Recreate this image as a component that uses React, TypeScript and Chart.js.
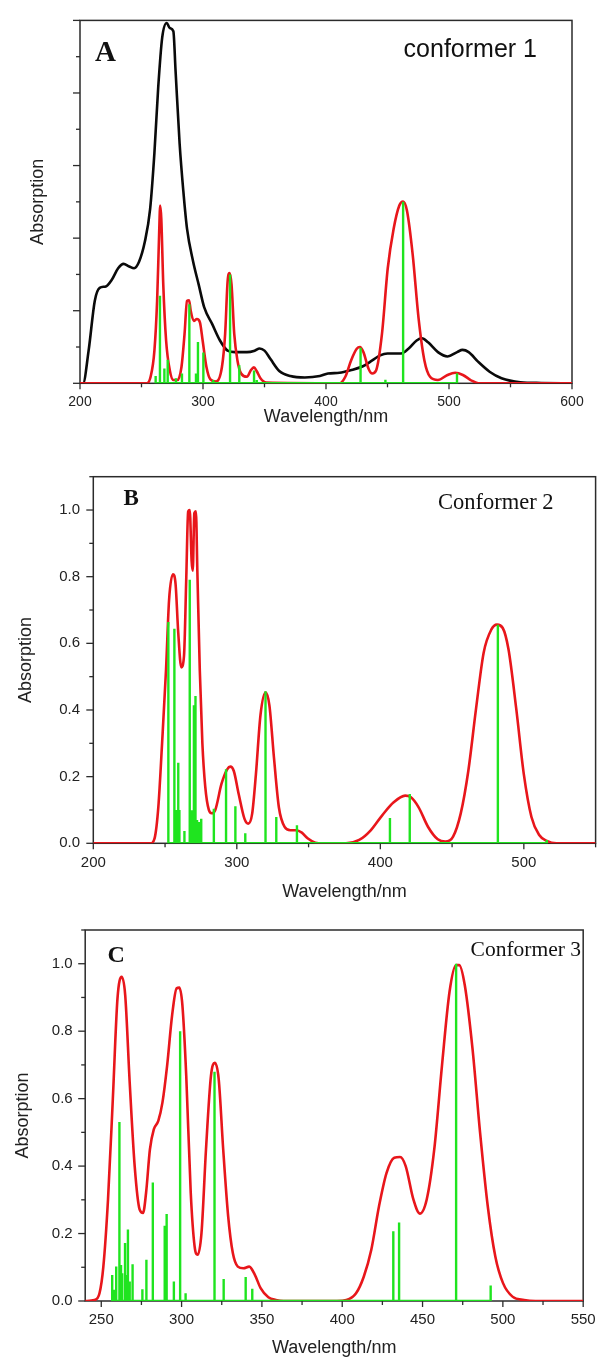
import React, { useEffect, useRef } from "react";
import { Chart, registerables } from "chart.js";
Chart.register(...registerables);

// ---------- Panel A (conformer 1) ----------
const A_EXP_NM = [200, 202.5, 207, 212, 216, 221, 226, 231, 235.4, 240, 244, 248, 252.7, 257, 260.5, 263.6, 266.8, 270.5, 273, 275.9, 277.7, 281, 284, 287, 292, 296.5, 301, 307.5, 313.8, 320, 326, 335.7, 342, 346, 350, 355, 362, 371, 382.8, 395, 401.6, 411, 420, 430, 437.6, 444, 450, 461, 467, 473.7, 478, 483, 491, 498.8, 506.6, 511, 516, 523.8, 533, 542.7, 558, 575, 600];
const A_EXP_ABS = [0, 0, 0.09, 0.227, 0.263, 0.267, 0.286, 0.317, 0.329, 0.322, 0.317, 0.335, 0.39, 0.48, 0.635, 0.816, 0.952, 0.993, 0.979, 0.97, 0.861, 0.66, 0.53, 0.426, 0.335, 0.272, 0.209, 0.163, 0.118, 0.09, 0.086, 0.086, 0.09, 0.096, 0.09, 0.066, 0.034, 0.02, 0.016, 0.02, 0.027, 0.029, 0.036, 0.047, 0.063, 0.077, 0.082, 0.082, 0.095, 0.118, 0.124, 0.113, 0.086, 0.074, 0.086, 0.092, 0.086, 0.059, 0.032, 0.014, 0.003, 0.001, 0];
const A_CALC_NM = [200, 254.2, 257.4, 260.5, 262.7, 264.3, 265.2, 266.1, 267.7, 270, 273, 276, 279.3, 282.5, 285, 287, 288.7, 290, 292.5, 295, 297.5, 299.7, 302.8, 306, 310.7, 315.4, 318, 320, 321.6, 323.2, 325.4, 328, 331, 335.7, 338.9, 341.4, 343.6, 346.7, 351.4, 411, 415.7, 420.4, 425, 427.6, 430.4, 434.5, 437.6, 440.8, 445.5, 450.2, 455, 459.6, 462.7, 465.8, 470.5, 475.2, 480, 484.6, 491, 498.8, 505, 511.3, 517.6, 523.8, 600];
const A_CALC_ABS = [0, 0, 0.018, 0.09, 0.227, 0.408, 0.49, 0.453, 0.272, 0.118, 0.036, 0.009, 0.009, 0.045, 0.136, 0.227, 0.229, 0.2, 0.172, 0.177, 0.168, 0.118, 0.045, 0.011, 0.005, 0.045, 0.136, 0.28, 0.304, 0.272, 0.136, 0.063, 0.027, 0.018, 0.036, 0.044, 0.034, 0.014, 0.002, 0, 0.018, 0.063, 0.095, 0.1, 0.086, 0.041, 0.027, 0.036, 0.136, 0.317, 0.426, 0.49, 0.501, 0.476, 0.354, 0.181, 0.063, 0.018, 0.009, 0.023, 0.029, 0.023, 0.009, 0, 0];
const A_STICK_NM = [261.5, 265, 268.6, 271.3, 278, 282.9, 288.9, 294.3, 295.9, 300.3, 308.4, 322, 329.5, 341.5, 343.7, 428.1, 448.3, 462.7, 506.5];
const A_STICK_F = [0.02, 0.241, 0.041, 0.065, 0.014, 0.027, 0.218, 0.027, 0.114, 0.085, 0.009, 0.3, 0.05, 0.035, 0.009, 0.098, 0.01, 0.5, 0.028];
const A_X_LABELS = [200, 300, 400, 500, 600];

// ---------- Panel B (Conformer 2) ----------
const B_CALC_NM = [200, 240, 242.7, 245.3, 248, 250.7, 252.8, 255.5, 257.3, 259.2, 261.3, 263.2, 264.8, 266.1, 267.2, 268.5, 269.3, 270.4, 271.5, 272.5, 274.2, 276, 278, 280.5, 282.5, 285, 289.3, 293.3, 295.5, 297.9, 301.3, 305.3, 308, 310.7, 313.3, 316.5, 320, 322.7, 325.9, 329.3, 333.3, 337.3, 341.3, 345.3, 349.3, 354.7, 360, 376, 385.3, 393.3, 401.3, 409.3, 417.3, 421.3, 426.7, 433.3, 440, 445.3, 450.7, 456, 461.3, 466.7, 472, 477.3, 481.3, 485.3, 489.3, 494.7, 500, 505.3, 510.7, 516, 522.7, 550];
const B_CALC_ABS = [0, 0, 0.015, 0.108, 0.306, 0.523, 0.73, 0.807, 0.779, 0.631, 0.528, 0.562, 0.799, 0.996, 1.0, 0.848, 0.818, 0.991, 0.996, 0.818, 0.52, 0.3, 0.17, 0.1, 0.09, 0.1, 0.178, 0.222, 0.23, 0.217, 0.148, 0.074, 0.059, 0.089, 0.207, 0.385, 0.452, 0.414, 0.256, 0.108, 0.049, 0.039, 0.039, 0.032, 0.015, 0.002, 0, 0, 0.01, 0.039, 0.084, 0.123, 0.143, 0.138, 0.108, 0.049, 0.012, 0.005, 0.02, 0.089, 0.217, 0.404, 0.572, 0.641, 0.656, 0.646, 0.582, 0.404, 0.207, 0.079, 0.025, 0.007, 0, 0];
const B_STICK_NM = [252.3, 256.5, 258.1, 259.2, 260, 263.5, 267.2, 268.5, 270.1, 271.2, 272.3, 273.6, 275.2, 284, 292.5, 299, 305.9, 320, 327.5, 341.9, 406.7, 420.5, 481.9, 516];
const B_STICK_F = [0.664, 0.644, 0.1, 0.242, 0.1, 0.037, 0.791, 0.099, 0.414, 0.442, 0.07, 0.064, 0.074, 0.104, 0.222, 0.111, 0.03, 0.456, 0.079, 0.054, 0.076, 0.148, 0.656, 0.01];
const B_X_LABELS = [200, 300, 400, 500];

// ---------- Panel C (Conformer 3) ----------
const C_CALC_NM = [240, 245.8, 248.9, 251.3, 254.2, 257.2, 260.1, 262.7, 264.9, 267.7, 270.8, 273.9, 276, 277.9, 280.3, 282.7, 285.5, 288.1, 291, 294.1, 296.9, 298.6, 300.5, 302.9, 305.7, 308.1, 310, 312.4, 315.2, 318.3, 320.7, 323.1, 325.9, 329, 331.9, 335, 338.5, 342.1, 345.7, 349.2, 354, 358.7, 363.5, 396.7, 402.6, 408.6, 413.4, 418.1, 422.9, 427.6, 432.4, 436, 439.5, 444.3, 448.3, 452.6, 457.3, 462.1, 466.8, 470.9, 472.8, 476.3, 481.1, 485.8, 490.6, 495.3, 500.1, 506, 513.2, 520.3, 550];
const C_CALC_ABS = [0, 0.003, 0.023, 0.102, 0.301, 0.599, 0.897, 0.961, 0.907, 0.648, 0.4, 0.271, 0.261, 0.321, 0.45, 0.509, 0.534, 0.589, 0.698, 0.847, 0.927, 0.929, 0.877, 0.668, 0.321, 0.162, 0.137, 0.202, 0.45, 0.668, 0.706, 0.658, 0.45, 0.251, 0.142, 0.102, 0.097, 0.102, 0.077, 0.038, 0.011, 0.003, 0, 0, 0.003, 0.023, 0.072, 0.152, 0.281, 0.38, 0.425, 0.427, 0.4, 0.301, 0.259, 0.301, 0.45, 0.698, 0.917, 0.996, 0.996, 0.936, 0.748, 0.5, 0.281, 0.132, 0.053, 0.013, 0.003, 0, 0];
const C_STICK_NM = [256.8, 258.1, 259.3, 261.3, 262.3, 263, 264.8, 265.7, 266.6, 267.7, 269.5, 275.6, 278.1, 282.1, 289.5, 290.7, 295.2, 299.1, 302.5, 320.5, 326.2, 339.9, 344, 431.8, 435.4, 470.9, 492.4];
const C_STICK_F = [0.077, 0.033, 0.102, 0.531, 0.107, 0.082, 0.172, 0.077, 0.212, 0.058, 0.109, 0.035, 0.122, 0.351, 0.223, 0.258, 0.058, 0.8, 0.023, 0.68, 0.065, 0.071, 0.036, 0.207, 0.233, 1.0, 0.046];
const C_X_LABELS = [250, 300, 350, 400, 450, 500, 550];

const Y_LABELS = ["0.0", "0.2", "0.4", "0.6", "0.8", "1.0"];
const X_TITLE = "Wavelength/nm";
const Y_TITLE = "Absorption";

const SANS = "'Liberation Sans', Arial, Helvetica, sans-serif";
const SERIF = "'Liberation Serif', 'Times New Roman', Times, serif";
const TXT = "#222";
const AXIS = "#2b2b2b";
const RED = "#e8161b";
const GREEN = "#1fe41f";
const BLACK = "#0a0a0a";

const W = 606;

function toPoints(xs: number[], ys: number[]) {
  return xs.map((x, i) => ({ x, y: ys[i] }));
}
function stickPoints(xs: number[], hs: number[]) {
  const pts: { x: number; y: number }[] = [];
  xs.forEach((x, i) => {
    pts.push({ x, y: 0 });
    pts.push({ x, y: hs[i] });
    pts.push({ x, y: 0 });
  });
  return pts;
}

type Label = { text: string; x: number; y: number; font: string };
type PanelCfg = {
  key: string;
  top: number;
  height: number;
  area: { left: number; right: number; top: number; bottom: number };
  xMin: number;
  xMax: number;
  xMinor: number;
  xMajor: number;
  xLabels: number[];
  yMax: number;
  yLabels: string[];
  tickFont: number;
  xTickPad: number;
  yTickPad: number;
  xTitlePad: number;
  yTitlePad: number;
  exp?: { x: number[]; y: number[] };
  calc: { x: number[]; y: number[] };
  sticks: { x: number[]; y: number[] };
  labels: Label[];
};

const PANELS: PanelCfg[] = [
  {
    key: "A", top: 0, height: 440,
    area: { left: 80, right: 572, top: 15.7, bottom: 383.3 },
    xMin: 200, xMax: 600, xMinor: 50, xMajor: 100, xLabels: A_X_LABELS,
    yMax: 1.0, yLabels: [], tickFont: 14, xTickPad: 10, yTickPad: 12,
    xTitlePad: 12, yTitlePad: 27.5,
    exp: { x: A_EXP_NM, y: A_EXP_ABS },
    calc: { x: A_CALC_NM, y: A_CALC_ABS },
    sticks: { x: A_STICK_NM, y: A_STICK_F },
    labels: [
      { text: "A", x: 95, y: 60.7, font: `bold 29px ${SERIF}` },
      { text: "conformer 1", x: 403.6, y: 57.3, font: `25px ${SANS}` },
    ],
  },
  {
    key: "B", top: 440, height: 465,
    area: { left: 93.3, right: 599.7, top: 476.7, bottom: 843.3 },
    xMin: 200, xMax: 550, xMinor: 50, xMajor: 100, xLabels: B_X_LABELS,
    yMax: 1.1, yLabels: Y_LABELS, tickFont: 15, xTickPad: 10.4, yTickPad: 13.3,
    xTitlePad: 2.2, yTitlePad: 15,
    calc: { x: B_CALC_NM, y: B_CALC_ABS },
    sticks: { x: B_STICK_NM, y: B_STICK_F },
    labels: [
      { text: "B", x: 123.4, y: 505, font: `bold 23px ${SERIF}` },
      { text: "Conformer 2", x: 438, y: 509, font: `22.5px ${SERIF}` },
    ],
  },
  {
    key: "C", top: 900, height: 460,
    area: { left: 85.2, right: 591.7, top: 930, bottom: 1301 },
    xMin: 240, xMax: 550, xMinor: 25, xMajor: 50, xLabels: C_X_LABELS,
    yMax: 1.1, yLabels: Y_LABELS, tickFont: 15, xTickPad: 10.3, yTickPad: 12.5,
    xTitlePad: 1.2, yTitlePad: 12.2,
    calc: { x: C_CALC_NM, y: C_CALC_ABS },
    sticks: { x: C_STICK_NM, y: C_STICK_F },
    labels: [
      { text: "C", x: 107.5, y: 961.7, font: `bold 24px ${SERIF}` },
      { text: "Conformer 3", x: 470.6, y: 956, font: `21.5px ${SERIF}` },
    ],
  },
];

function PanelChart({ p }: { p: PanelCfg }) {
  const ref = useRef<HTMLCanvasElement>(null);
  useEffect(() => {
    const canvas = ref.current;
    if (!canvas) return;
    const H = p.height;
    const area = {
      left: p.area.left,
      right: p.area.right,
      top: p.area.top - p.top,
      bottom: p.area.bottom - p.top,
    };
    const nY = Math.round(p.yMax * 10);

    const decor = {
      id: "decor" + p.key,
      beforeDatasetsDraw(chart: any) {
        const { ctx, chartArea: ca, scales } = chart;
        const xs = scales.x;
        const ys = scales.y;
        ctx.save();
        ctx.strokeStyle = AXIS;
        ctx.lineWidth = 1.5;
        ctx.strokeRect(ca.left, ca.top, ca.right - ca.left, ca.bottom - ca.top);
        ctx.lineWidth = 1.3;
        const start = Math.ceil((p.xMin - 1e-6) / p.xMinor) * p.xMinor;
        for (let v = start; v <= p.xMax + 1e-6; v += p.xMinor) {
          const major = Math.abs(v / p.xMajor - Math.round(v / p.xMajor)) < 1e-6;
          const px = xs.getPixelForValue(v);
          ctx.beginPath();
          ctx.moveTo(px, ca.bottom);
          ctx.lineTo(px, ca.bottom + (major ? 6 : 4));
          ctx.stroke();
        }
        for (let i = 0; i <= nY; i++) {
          const py = ys.getPixelForValue(i / 10);
          const major = i % 2 === 0;
          ctx.beginPath();
          ctx.moveTo(ca.left, py);
          ctx.lineTo(ca.left - (major ? 7 : 4), py);
          ctx.stroke();
        }
        ctx.restore();
      },
      afterDraw(chart: any) {
        const { ctx } = chart;
        ctx.save();
        ctx.fillStyle = "#111";
        ctx.textBaseline = "alphabetic";
        ctx.textAlign = "left";
        p.labels.forEach((l) => {
          ctx.font = l.font;
          ctx.fillText(l.text, l.x, l.y - p.top);
        });
        ctx.restore();
      },
    };

    const datasets: any[] = [
      {
        label: "sticks",
        data: stickPoints(p.sticks.x, p.sticks.y),
        borderColor: GREEN,
        borderWidth: 2.4,
        pointRadius: 0,
        tension: 0,
        borderJoinStyle: "miter",
        borderCapStyle: "butt",
      },
      {
        label: "calc",
        data: toPoints(p.calc.x, p.calc.y),
        borderColor: RED,
        borderWidth: 2.6,
        pointRadius: 0,
        cubicInterpolationMode: "monotone",
      },
    ];
    if (p.exp) {
      datasets.push({
        label: "exp",
        data: toPoints(p.exp.x, p.exp.y),
        borderColor: BLACK,
        borderWidth: 2.6,
        pointRadius: 0,
        cubicInterpolationMode: "monotone",
      });
    }

    const chart = new Chart(canvas, {
      type: "line",
      data: { datasets },
      plugins: [decor],
      options: {
        animation: false,
        responsive: false,
        devicePixelRatio: 1,
        layout: { padding: { left: 0, top: area.top, right: W - area.right, bottom: 0 } },
        plugins: { legend: { display: false }, tooltip: { enabled: false } },
        elements: { line: { fill: false } },
        scales: {
          x: {
            type: "linear",
            min: p.xMin,
            max: p.xMax,
            afterFit: (s: any) => { s.height = H - area.bottom; },
            grid: { display: false, drawTicks: false },
            border: { display: false },
            ticks: {
              stepSize: p.xMinor,
              includeBounds: false,
              autoSkip: false,
              maxRotation: 0,
              minRotation: 0,
              padding: p.xTickPad,
              color: TXT,
              font: { family: SANS, size: p.tickFont },
              callback: (v: any) => {
                const n = Math.round(Number(v));
                return Math.abs(Number(v) - n) < 1e-6 && p.xLabels.includes(n) ? String(n) : "";
              },
            },
            title: {
              display: true,
              text: X_TITLE,
              color: TXT,
              font: { family: SANS, size: 18 },
              padding: { top: 0, bottom: p.xTitlePad },
            },
          },
          y: {
            type: "linear",
            min: 0,
            max: p.yMax,
            afterFit: (s: any) => { s.width = area.left; },
            grid: { display: false, drawTicks: false },
            border: { display: false },
            ticks: {
              stepSize: 0.1,
              autoSkip: false,
              padding: p.yTickPad,
              color: TXT,
              font: { family: SANS, size: p.tickFont },
              callback: (v: any) => {
                const i = Math.round(Number(v) * 10);
                return i % 2 === 0 ? p.yLabels[i / 2] || "" : "";
              },
            },
            title: {
              display: true,
              text: Y_TITLE,
              color: TXT,
              font: { family: SANS, size: 18 },
              padding: { top: p.yTitlePad, bottom: 0 },
            },
          },
        },
      } as any,
    });
    return () => chart.destroy();
  }, [p]);
  return (
    <canvas
      ref={ref}
      width={W}
      height={p.height}
      style={{ position: "absolute", left: 0, top: p.top, width: W, height: p.height, display: "block" }}
    />
  );
}

export default function App() {
  return (
    <div style={{ position: "absolute", left: 0, top: 0, width: W, height: 1360, background: "#fff", overflow: "hidden" }}>
      {PANELS.map((p) => (
        <PanelChart key={p.key} p={p} />
      ))}
    </div>
  );
}
